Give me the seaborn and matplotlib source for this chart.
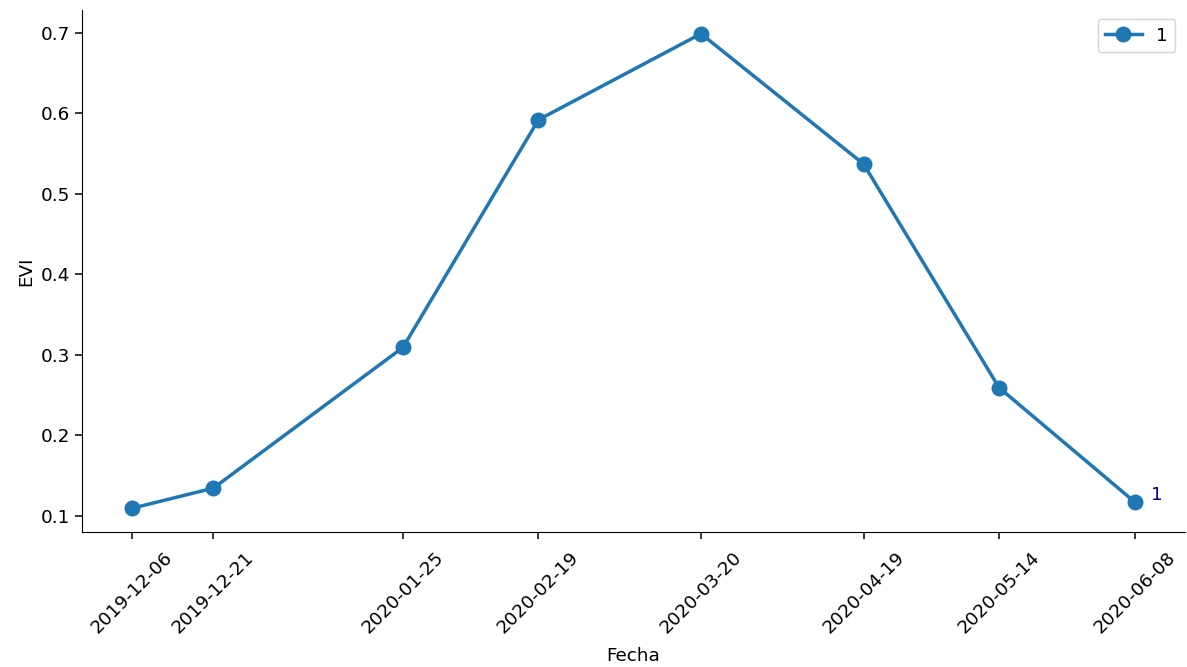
import matplotlib
matplotlib.use("Agg")
import matplotlib.pyplot as plt
import matplotlib.dates as mdates
import seaborn as sns
import pandas as pd

fechas = ["2019-12-06", "2019-12-21", "2020-01-25", "2020-02-19",
          "2020-03-20", "2020-04-19", "2020-05-14", "2020-06-08"]
evi = [0.109, 0.134, 0.309, 0.592, 0.699, 0.537, 0.259, 0.117]
serie = ["1"] * len(fechas)

df = pd.DataFrame({"Fecha": pd.to_datetime(fechas), "EVI": evi, "id": serie})

fs = 13.2
plt.rcParams["font.size"] = fs
fig = plt.figure(figsize=(11.87, 6.67), dpi=100)
ax = fig.add_axes([0.069, 0.2024, 0.929, 0.7826])
sns.lineplot(data=df, x="Fecha", y="EVI", hue="id", palette=["#1f77b4"],
             marker="o", markersize=11.5, linewidth=2.5, markeredgewidth=0, ax=ax)
sns.despine(ax=ax)

ax.set_xticks(df["Fecha"])
ax.xaxis.set_major_formatter(mdates.DateFormatter("%Y-%m-%d"))
plt.setp(ax.get_xticklabels(), rotation=45)
ax.tick_params(labelsize=fs, length=5, width=1.1)
ax.tick_params(axis="x", pad=7)
ax.set_xlabel("Fecha", fontsize=fs, labelpad=7)
ax.set_ylabel("EVI", fontsize=fs)

last = df.iloc[-1]
ax.annotate("1", xy=(last["Fecha"], last["EVI"]), xytext=(12, 5),
            textcoords="offset points", color="darkblue", va="center", fontsize=fs)

ax.legend(loc="upper right", title=None, fontsize=fs)

fig.savefig("out.png", dpi=100)
